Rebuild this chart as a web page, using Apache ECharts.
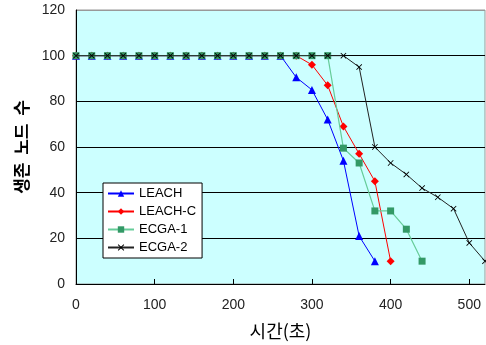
<!DOCTYPE html>
<html><head><meta charset="utf-8">
<script src="https://cdn.jsdelivr.net/npm/echarts@6/dist/echarts.min.js"></script>
<style>html,body{margin:0;padding:0;background:#fff}#c{width:486px;height:345px}</style>
</head><body><div id="c"></div>
<script>
var times = [0,20,40,60,80,100,120,140,160,180,200,220,240,260,280,300,320,340,360,380,400,420,440,460,480,500,520];
var leach  = [100,100,100,100,100,100,100,100,100,100,100,100,100,100,90.5,85,72,54,21,10];
var leachC = [100,100,100,100,100,100,100,100,100,100,100,100,100,100,100,96,87,69,57,45,10];
var ecga1  = [100,100,100,100,100,100,100,100,100,100,100,100,100,100,100,100,100,59.5,53,32,32,24,10];
var ecga2  = [100,100,100,100,100,100,100,100,100,100,100,100,100,100,100,100,100,100,95,60,53,48,42,38,33,18,10];
var seriesNames = ['LEACH','LEACH-C','ECGA-1','ECGA-2'];
var yTicks = [0,20,40,60,80,100,120];
var xTicks = [0,100,200,300,400,500];

function pairs(vals){ return vals.map(function(v,i){ return [times[i], v]; }); }
var xMark = 'path://M0,1 L1,0 L5,4 L9,0 L10,1 L6,5 L10,9 L9,10 L5,6 L1,10 L0,9 L4,5 Z';
var chart = echarts.init(document.getElementById('c'), null, {renderer:'canvas'});
chart.setOption({
  animation:false,
  backgroundColor:'#fff',
  grid:{left:76, right:1, top:10, bottom:61, show:true, backgroundColor:'#CCFFFF', borderColor:'#999', borderWidth:1},
  legend:{
    orient:'vertical', left:103, top:183,
    backgroundColor:'#fff', borderColor:'#000', borderWidth:1,
    padding:[4,6,4,4], itemGap:5, itemWidth:26, itemHeight:8,
    textStyle:{fontFamily:'"Liberation Sans", Arial, sans-serif', fontSize:13, color:'#000'},
    data:seriesNames
  },
  xAxis:{
    type:'value', min:xTicks[0], max:520, interval:100,
    name:'시간(초)', nameLocation:'middle', nameGap:38,
    nameTextStyle:{fontFamily:'"Noto Sans CJK KR"', fontSize:18, color:'#000'},
    axisLine:{lineStyle:{color:'#000', width:1}},
    axisTick:{show:true, inside:true, length:5, lineStyle:{color:'#000'}},
    axisLabel:{showMaxLabel:false, margin:14, fontFamily:'"Liberation Sans", Arial, sans-serif', fontSize:14, color:'#222'},
    splitLine:{show:false}
  },
  yAxis:{
    type:'value', min:yTicks[0], max:yTicks[yTicks.length-1], interval:20,
    name:'생존  노드  수', nameLocation:'middle', nameGap:46, nameRotate:90,
    nameTextStyle:{fontFamily:'"Noto Sans CJK KR"', fontSize:17, fontWeight:'bold', color:'#000'},
    axisLine:{show:true, lineStyle:{color:'#000', width:1}},
    axisTick:{show:false},
    axisLabel:{margin:11, fontFamily:'"Liberation Sans", Arial, sans-serif', fontSize:14, color:'#222'},
    splitLine:{show:true, lineStyle:{color:['#000','#000','#000','#000','#000','#000','#999'], width:1}}
  },
  series:[
    {name:seriesNames[0], type:'line', data:pairs(leach), symbol:'triangle', symbolSize:8,
     lineStyle:{color:'#0000FF', width:1}, itemStyle:{color:'#0000FF'}, z:2},
    {name:seriesNames[1], type:'line', data:pairs(leachC), symbol:'diamond', symbolSize:8,
     lineStyle:{color:'#FF0000', width:1}, itemStyle:{color:'#FF0000'}, z:3},
    {name:seriesNames[2], type:'line', data:pairs(ecga1), symbol:'rect', symbolSize:7,
     lineStyle:{color:'#66CC99', width:1.2}, itemStyle:{color:'#339966'}, z:4},
    {name:seriesNames[3], type:'line', data:pairs(ecga2), symbol:xMark, symbolSize:6,
     lineStyle:{color:'#222', width:1}, itemStyle:{color:'#000'}, z:5}
  ]
});
</script></body></html>
